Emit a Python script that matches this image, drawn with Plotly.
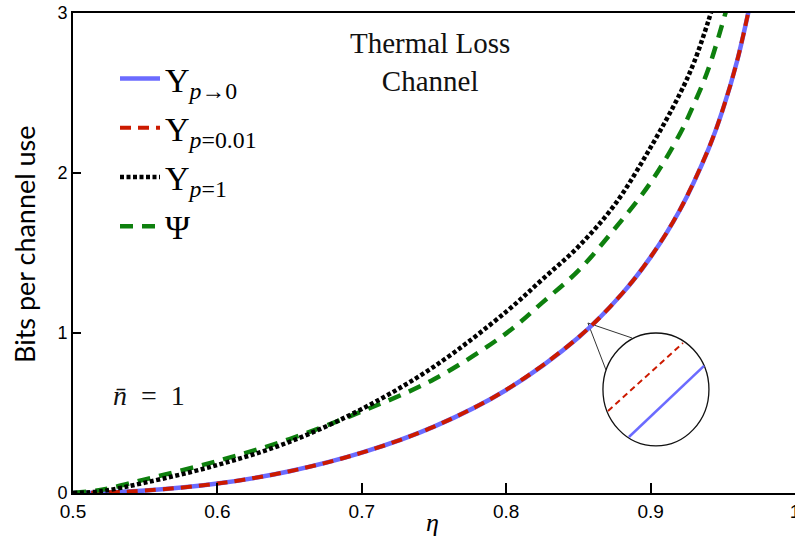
import plotly.graph_objects as go

# ---- data ----
eta_plob = [0.50, 0.52, 0.55, 0.60, 0.65, 0.70, 0.75, 0.80, 0.85, 0.88, 0.90, 0.92, 0.94, 0.95, 0.96, 0.97]
ups_p0 = [0.0, 0.003, 0.015, 0.059, 0.136, 0.252, 0.415, 0.644, 0.972, 1.243, 1.474, 1.764, 2.148, 2.396, 2.703, 3.103]
ups_p001 = [0.0, 0.003, 0.015, 0.059, 0.136, 0.252, 0.415, 0.645, 0.973, 1.244, 1.475, 1.765, 2.149, 2.397, 2.704, 3.104]

eta_p1 = [0.50, 0.52, 0.55, 0.60, 0.65, 0.70, 0.75, 0.80, 0.825, 0.85, 0.875, 0.90, 0.92, 0.93, 0.94, 0.945]
ups_p1 = [0.0, 0.012, 0.065, 0.175, 0.32, 0.525, 0.79, 1.133, 1.335, 1.54, 1.80, 2.16, 2.49, 2.69, 2.95, 3.1]

eta_psi = [0.50, 0.52, 0.55, 0.60, 0.65, 0.70, 0.75, 0.80, 0.825, 0.85, 0.875, 0.90, 0.92, 0.93, 0.94, 0.955]
psi = [0.0, 0.02, 0.085, 0.20, 0.337, 0.51, 0.711, 0.998, 1.19, 1.39, 1.65, 1.94, 2.24, 2.43, 2.65, 3.1]

x_ticks = [0.5, 0.6, 0.7, 0.8, 0.9, 1.0]
x_ticktext = ["0.5", "0.6", "0.7", "0.8", "0.9", "1"]
y_ticks = [0, 1, 2, 3]

# inset magnifier (data coordinates)
circle_box = (0.867, 0.294, 0.9404, 1.0)
inset_red = (0.8705, 0.5125, 0.9224, 0.9375)
inset_blue = (0.885, 0.35, 0.937, 0.794)
pointer_origin = (0.8566, 1.0625)
pointer_ends = [(0.8871, 0.969), (0.8691, 0.769)]

BLUE = "#6B6BFF"
RED = "#CC1A00"
BLACK = "#000000"
GREEN = "#0E800E"
SERIF = "Liberation Serif, Times New Roman, serif"

fig = go.Figure()
fig.add_trace(go.Scatter(x=eta_plob, y=ups_p0, mode="lines", name="Υ<sub><i>p</i>→0</sub>",
                         legendgroup="a", line=dict(color=BLUE, width=4.5, shape="spline"), legendrank=1))
fig.add_trace(go.Scatter(x=eta_plob, y=ups_p001, mode="lines", name="Υ<sub><i>p</i>=0.01</sub>",
                         legendgroup="b", line=dict(color=RED, width=4, dash="11px,7px", shape="spline"), legendrank=2))
fig.add_trace(go.Scatter(x=eta_psi, y=psi, mode="lines", name="Ψ<sub> </sub>",
                         legendgroup="d", line=dict(color=GREEN, width=4.5, dash="13px,9px", shape="spline"), legendrank=4))
fig.add_trace(go.Scatter(x=eta_p1, y=ups_p1, mode="lines", name="Υ<sub><i>p</i>=1</sub>",
                         legendgroup="c", line=dict(color=BLACK, width=4.5, dash="4px,2.5px", shape="spline"), legendrank=3))

shapes = []
x0, y0, x1, y1 = circle_box
shapes.append(dict(type="circle", xref="x", yref="y", x0=x0, y0=y0, x1=x1, y1=y1,
                   line=dict(color="#111111", width=1.3), fillcolor="white", layer="above"))
for (ex, ey) in pointer_ends:
    shapes.append(dict(type="line", xref="x", yref="y", x0=pointer_origin[0], y0=pointer_origin[1],
                       x1=ex, y1=ey, line=dict(color="#333333", width=1), layer="below"))
shapes.append(dict(type="line", xref="x", yref="y", x0=inset_red[0], y0=inset_red[1],
                   x1=inset_red[2], y1=inset_red[3], line=dict(color=RED, width=2, dash="6px,4px"), layer="above"))
shapes.append(dict(type="line", xref="x", yref="y", x0=inset_blue[0], y0=inset_blue[1],
                   x1=inset_blue[2], y1=inset_blue[3], line=dict(color=BLUE, width=2.5), layer="above"))

annotations = [
    dict(text="Thermal Loss<br>Channel", xref="paper", yref="paper", x=(430 - 73) / 722, y=(493 - 62) / 480,
         xanchor="center", yanchor="middle", showarrow=False, font=dict(family=SERIF, size=29, color="#111")),
    dict(text="<i>n\u0304</i>\u2002=\u20021", xref="paper", yref="paper", x=(149 - 73) / 722, y=(493 - 395) / 480,
         xanchor="center", yanchor="middle", showarrow=False, font=dict(family=SERIF, size=28, color="#111")),
    dict(text="<i>η</i>", xref="paper", yref="paper", x=(432 - 73) / 722, y=(493 - 522) / 480,
         xanchor="center", yanchor="middle", showarrow=False, font=dict(family=SERIF, size=26, color="#000")),
    dict(text="Bits per channel use", xref="paper", yref="paper", x=(25 - 73) / 722, y=(493 - 244) / 480,
         xanchor="center", yanchor="middle", textangle=-90, showarrow=False,
         font=dict(family="Lato, Open Sans, sans-serif", size=27, color="#000")),
]

fig.update_layout(
    width=795, height=536,
    margin=dict(l=73, r=0, t=13, b=43, autoexpand=False),
    paper_bgcolor="white", plot_bgcolor="white",
    shapes=shapes, annotations=annotations,
    legend=dict(x=(115 - 73) / 722, y=(493 - 50) / 480, xanchor="left", yanchor="top",
                font=dict(family=SERIF, size=34, color="#000"), bgcolor="rgba(0,0,0,0)",
                traceorder="grouped", tracegroupgap=2, itemwidth=40),
    showlegend=True,
)
fig.update_xaxes(range=[0.5, 1.0], tickvals=x_ticks, ticktext=x_ticktext, showgrid=False, zeroline=False,
                 showline=True, linecolor="black", linewidth=2, mirror=True, automargin=False,
                 ticks="inside", ticklen=10, tickwidth=1.5, tickcolor="black", ticklabeloverflow="allow",
                 tickfont=dict(family="Liberation Sans, Arial, sans-serif", size=19, color="#000"))
fig.update_yaxes(range=[0, 3], tickvals=y_ticks, showgrid=False, zeroline=False,
                 showline=True, linecolor="black", linewidth=2, automargin=False,
                 ticks="inside", ticklen=8, tickwidth=1.5, tickcolor="black",
                 tickfont=dict(family="Liberation Sans, Arial, sans-serif", size=18, color="#000"))

fig.write_html("out.html")
